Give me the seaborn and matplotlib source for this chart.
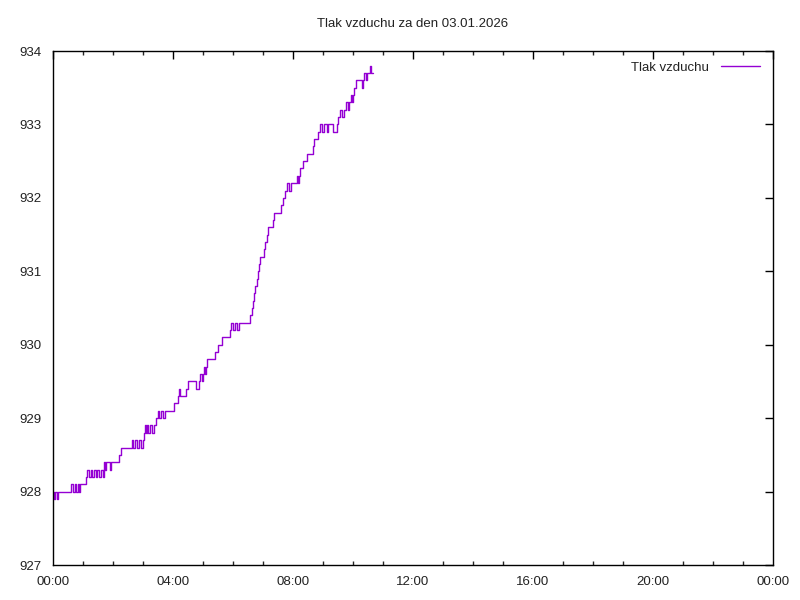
import matplotlib
matplotlib.use("Agg")
import matplotlib.pyplot as plt
import seaborn as sns
import pandas as pd
from matplotlib.ticker import MultipleLocator, FuncFormatter

title = "Tlak vzduchu za den 03.01.2026"
series_name = "Tlak vzduchu"

times = [
    "00:00", "00:02", "00:04", "00:08", "00:10", "00:34",
    "00:36", "00:40", "00:44", "00:46", "00:50", "00:52",
    "00:54", "01:06", "01:08", "01:12", "01:16", "01:18", "01:22", "01:26",
    "01:28", "01:32", "01:36", "01:40", "01:42",
    "01:44", "01:46", "01:54", "01:56", "02:12", "02:16", "02:38", "02:40",
    "02:44", "02:48", "02:52", "02:56", "03:00", "03:02",
    "03:04", "03:06", "03:08", "03:10", "03:14", "03:18", "03:22",
    "03:26", "03:30", "03:32", "03:36", "03:40", "03:44",
    "03:52", "04:02", "04:10", "04:12", "04:14", "04:26",
    "04:30", "04:46", "04:52", "04:54", "04:58", "05:00", "05:02", "05:04",
    "05:06", "05:08", "05:24", "05:30", "05:38", "05:54", "05:56", "06:00",
    "06:04", "06:08", "06:12", "06:34", "06:38", "06:40", "06:42", "06:44",
    "06:48", "06:50", "06:52", "06:54", "07:02", "07:04", "07:08", "07:10",
    "07:20", "07:22", "07:36", "07:40", "07:44", "07:48", "07:52", "07:56",
    "08:08", "08:10", "08:12", "08:14", "08:20", "08:28", "08:40", "08:42",
    "08:50", "08:54", "08:58", "09:02", "09:08", "09:10", "09:20", "09:28",
    "09:30", "09:34", "09:38", "09:42", "09:46", "09:50", "09:52", "09:56",
    "09:58", "10:00", "10:02", "10:06", "10:18", "10:20", "10:22", "10:26",
    "10:28", "10:34", "10:36", "10:40",
]

pressure = [
    928.0, 927.9, 928.0, 927.9, 928.0, 928.0,
    928.1, 928.0, 928.1, 928.0, 928.1, 928.0,
    928.1, 928.2, 928.3, 928.2, 928.3, 928.2, 928.3, 928.2,
    928.3, 928.2, 928.3, 928.2, 928.4,
    928.3, 928.4, 928.3, 928.4, 928.5, 928.6, 928.7, 928.6,
    928.7, 928.6, 928.7, 928.6, 928.7, 928.8,
    928.9, 928.8, 928.9, 928.8, 928.9, 928.8, 928.9,
    929.0, 929.1, 929.0, 929.1, 929.0, 929.1,
    929.1, 929.2, 929.3, 929.4, 929.3, 929.4,
    929.5, 929.4, 929.5, 929.6, 929.5, 929.6, 929.7, 929.6,
    929.7, 929.8, 929.9, 930.0, 930.1, 930.2, 930.3, 930.2,
    930.3, 930.2, 930.3, 930.4, 930.5, 930.6, 930.7, 930.8,
    930.9, 931.0, 931.1, 931.2, 931.3, 931.4, 931.5, 931.6,
    931.7, 931.8, 931.9, 932.0, 932.1, 932.2, 932.1, 932.2,
    932.3, 932.2, 932.3, 932.4, 932.5, 932.6, 932.7, 932.8,
    932.9, 933.0, 932.9, 933.0, 932.9, 933.0, 932.9, 933.0,
    933.1, 933.2, 933.1, 933.2, 933.3, 933.2, 933.3, 933.4,
    933.3, 933.4, 933.5, 933.6, 933.5, 933.6, 933.7, 933.6,
    933.7, 933.8, 933.7, 933.7,
]

x_ticks = ["00:00", "04:00", "08:00", "12:00", "16:00", "20:00", "00:00"]

def to_hours(s):
    h, m = s.split(":")
    return int(h) + int(m) / 60.0

df = pd.DataFrame({"t": [to_hours(s) for s in times], "p": pressure})

sns.set_style("white")
plt.rcParams["font.family"] = ["Liberation Sans", "DejaVu Sans"]

fig = plt.figure(figsize=(8, 6), dpi=100)
ax = fig.add_axes([53 / 800, 35 / 600, 720 / 800, 514 / 600])

sns.lineplot(data=df, x="t", y="p", ax=ax, color="#9400D3", linewidth=1.0,
             drawstyle="steps-post", estimator=None, label=series_name)

ax.set_xlim(0, 24)
ax.set_ylim(927, 934)
ax.xaxis.set_major_locator(MultipleLocator(4))
ax.xaxis.set_minor_locator(MultipleLocator(1))
ax.yaxis.set_major_locator(MultipleLocator(1))
ax.xaxis.set_major_formatter(FuncFormatter(lambda v, p: x_ticks[int(round(v / 4))] if 0 <= int(round(v / 4)) < len(x_ticks) else ""))
ax.yaxis.set_major_formatter(FuncFormatter(lambda v, p: "%d" % round(v)))
ax.set_xlabel("")
ax.set_ylabel("")

for sp in ax.spines.values():
    sp.set_visible(True)
    sp.set_color("black")
    sp.set_linewidth(1.0)

ax.tick_params(axis="both", which="major", direction="in", length=6, width=1,
               top=True, right=True, labelsize=9.5, colors="black", pad=8.5)
ax.tick_params(axis="x", which="minor", direction="in", length=3, width=1,
               top=True, bottom=True)
ax.tick_params(axis="x", which="major", pad=8)
for lab in ax.get_xticklabels() + ax.get_yticklabels():
    lab.set_color("#222222")

ax.set_title(title, fontsize=9.5, pad=17, color="#222222")

leg = ax.legend(loc="upper right", bbox_to_anchor=(0.995, 0.997), frameon=False,
                markerfirst=False, fontsize=9.5, handlelength=3.0, handletextpad=0.9,
                borderaxespad=0.3)
for t in leg.get_texts():
    t.set_color("#222222")

fig.savefig("out.png", dpi=100)
